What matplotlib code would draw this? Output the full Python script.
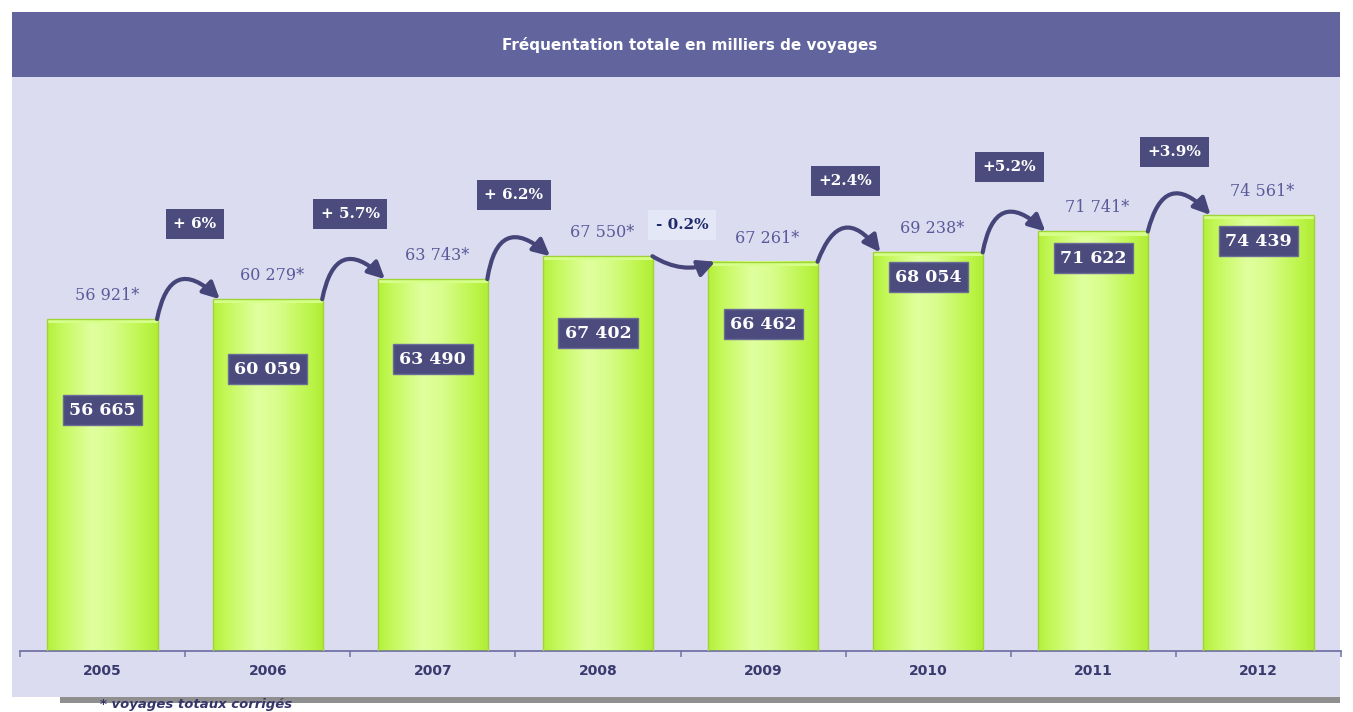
import matplotlib
matplotlib.use('Agg')
import matplotlib.pyplot as plt
import numpy as np
from matplotlib.patches import Rectangle
from matplotlib.colors import LinearSegmentedColormap

# ---------------- data ----------------
years = ['2005', '2006', '2007', '2008', '2009', '2010', '2011', '2012']
voyages = [56665, 60059, 63490, 67402, 66462, 68054, 71622, 74439]
corrected = [56921, 60279, 63743, 67550, 67261, 69238, 71741, 74561]
growth = ['+ 6%', '+ 5.7%', '+ 6.2%', '- 0.2%', '+2.4%', '+5.2%', '+3.9%']

title = 'Fréquentation totale en milliers de voyages'
footnote = '* voyages totaux corrigés'

# ---------------- layout (positions only) ----------------
label_y = [41140, 48140, 49850, 54290, 55820, 63840, 67090, 69990]
growth_y = [72890, 74600, 77840, 72720, 80230, 82620, 85180]
growth_dx = [0.06, 0.0, -0.01, 0.01, 0.0, -0.01, -0.01]
arrow_rad = [-0.9, -0.9, -0.9, 0.25, -0.9, -0.9, -0.9]

W, H = 1353, 712
fig = plt.figure(figsize=(W / 100, H / 100), dpi=100)
fig.patch.set_facecolor('white')


def frect(x0, y0, x1, y1, color, z=-5):
    fig.patches.append(Rectangle((x0 / W, 1 - y1 / H), (x1 - x0) / W, (y1 - y0) / H,
                                 transform=fig.transFigure, facecolor=color,
                                 edgecolor='none', zorder=z))


frect(12, 77, 1340, 697, '#dcdcf0')
frect(12, 12, 1340, 77, '#62649e')
frect(60, 697, 1340, 703, '#8f8f8f')

fig.text(690 / W, 1 - 45 / H, title, color='white', fontsize=11, fontweight='bold',
         ha='center', va='center', family='DejaVu Sans')
fig.text(100 / W, 1 - 711 / H, footnote, color='#35356a', fontsize=9.5,
         style='italic', fontweight='bold', va='bottom', ha='left', family='DejaVu Sans')

ax = fig.add_axes([20 / W, 1 - 651 / H, 1321 / W, (651 - 77) / H])
ax.set_facecolor('none')
ax.patch.set_alpha(0)

# gradient for bars
cmap = LinearSegmentedColormap.from_list(
    'bar', [(0.0, '#b4f03a'), (0.12, '#c4f85a'), (0.40, '#e0ff9e'),
            (0.58, '#d8fd8c'), (0.88, '#bcf548'), (1.0, '#b0ec36')])
grad = np.linspace(0, 1, 256).reshape(1, -1)

bw = 0.667
xs = np.arange(len(years))
for i, v in enumerate(voyages):
    ax.imshow(grad, cmap=cmap, extent=[i - bw / 2, i + bw / 2, 0, v], aspect='auto',
              interpolation='bilinear', zorder=2)
    # top cap
    ax.bar(i, 700, bottom=v - 700, width=bw, color='#d6ff8a', edgecolor='none', zorder=3)
bars = ax.bar(xs, voyages, width=bw, facecolor='none', edgecolor='#9fd436', lw=1.0, zorder=4)

# value boxes inside bars
for i, v in enumerate(voyages):
    s = f'{v:,}'.replace(',', ' ')
    ax.text(i, label_y[i], s, ha='center', va='center', color='white', fontsize=12.5,
            fontweight='bold', family='DejaVu Serif', zorder=6,
            bbox=dict(boxstyle='square,pad=0.36', fc='#4b4b7d', ec='#6c6c98', lw=1))

# corrected values above bars
for i, c in enumerate(corrected):
    s = f'{c:,}'.replace(',', ' ') + '*'
    ax.annotate(s, xy=(i, voyages[i]), xytext=(3, 17), textcoords='offset points',
                ha='center', va='center', color='#5a5a9a', fontsize=11.5,
                family='DejaVu Serif', zorder=6)

# growth boxes
for i, g in enumerate(growth):
    neg = g.strip().startswith('-')
    ax.text(i + 0.5 + growth_dx[i], growth_y[i], g, ha='center', va='center',
            color='#1f2a6b' if neg else 'white', fontsize=11, fontweight='bold',
            family='DejaVu Serif', zorder=6,
            bbox=dict(boxstyle='square,pad=0.5', fc='#e4e8f6' if neg else '#4b4b7d',
                      ec='none'))

# arrows between bars
for i in range(len(voyages) - 1):
    start = (i + 0.33, voyages[i])
    end = (i + 1 - 0.29, voyages[i + 1])
    ax.annotate('', xy=end, xytext=start,
                arrowprops=dict(arrowstyle='-|>,head_length=1.0,head_width=0.5',
                                connectionstyle=f'arc3,rad={arrow_rad[i]}',
                                color='#45457a', lw=3, shrinkA=0, shrinkB=0),
                zorder=7)

ax.set_xlim(-0.5, len(years) - 0.5)
ax.set_ylim(0, 98000)

for sp in ['top', 'left', 'right']:
    ax.spines[sp].set_visible(False)
ax.spines['bottom'].set_color('#6a6aa0')
ax.spines['bottom'].set_linewidth(1.2)
ax.set_yticks([])
ax.set_xticks(np.arange(-0.5, len(years), 1.0))
ax.set_xticklabels([])
ax.tick_params(axis='x', length=4.5, width=1.2, color='#7a7aaa', direction='out')

for i, y in enumerate(years):
    ax.text(i, -20 / 574, y, transform=ax.get_xaxis_transform(), ha='center', va='center',
            color='#3a3a6e', fontsize=10, fontweight='bold', family='DejaVu Sans')

fig.savefig('out.png', dpi=100, facecolor=fig.get_facecolor())
